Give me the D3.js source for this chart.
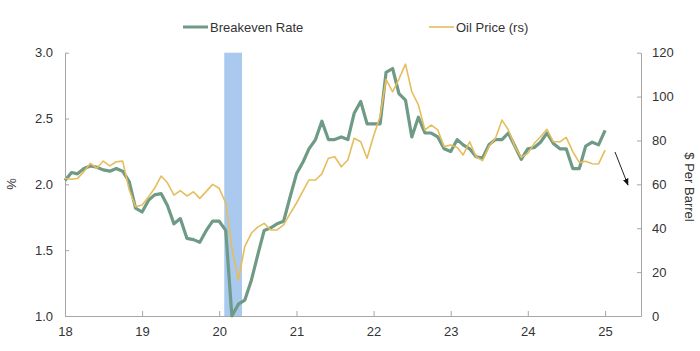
<!DOCTYPE html>
<html><head><meta charset="utf-8">
<script src="https://cdn.jsdelivr.net/npm/d3@7/dist/d3.min.js"></script>
<style>body{margin:0;background:#fff}svg text{font-family:"Liberation Sans",Arial,sans-serif;fill:#333}</style>
</head><body><svg id="c" width="700" height="351"></svg>
<script>
// ---- data ----
const startMonth = "2018-01";
const breakeven = [
 2.03,2.09,2.08,2.12,2.14,2.13,2.11,2.10,2.12,2.10,2.02,1.82,
 1.79,1.88,1.92,1.93,1.84,1.70,1.74,1.59,1.58,1.56,1.65,1.72,
 1.72,1.65,1.00,1.09,1.12,1.27,1.46,1.65,1.67,1.70,1.72,1.90,
 2.08,2.17,2.27,2.34,2.48,2.34,2.34,2.36,2.34,2.54,2.63,2.46,
 2.46,2.46,2.85,2.88,2.69,2.64,2.36,2.51,2.39,2.39,2.36,2.27,
 2.25,2.34,2.30,2.27,2.21,2.20,2.30,2.34,2.34,2.39,2.29,2.19,
 2.27,2.28,2.32,2.39,2.31,2.27,2.27,2.12,2.12,2.29,2.32,2.30,
 2.41];
const oil = [
 62.7,62.3,62.7,65.8,69.6,67.3,70.6,68.4,70.3,70.6,57.5,49.8,
 50.6,54.4,58.2,63.8,60.7,55.1,57.1,54.7,56.6,53.6,56.8,60.0,
 58.2,51.5,31.0,16.4,31.6,37.7,40.5,42.2,39.2,39.2,41.5,46.5,
 51.5,57.0,62.0,62.0,64.8,71.9,72.6,68.0,71.1,81.0,79.4,71.9,
 82.0,91.0,107.9,102.2,108.0,114.8,102.2,96.2,84.8,87.0,84.8,77.2,
 77.9,76.8,73.4,79.4,72.6,70.8,77.2,81.0,89.3,84.8,77.2,72.3,
 74.1,78.7,81.7,85.1,79.4,79.4,81.4,74.9,69.9,70.5,69.4,69.3,
 75.6];
const recession = ["2020-01-25","2020-04-18"];
const xTicks = ["2018","2019","2020","2021","2022","2023","2024","2025"];
const leftTicks = [1.0,1.5,2.0,2.5,3.0];
const rightTicks = [0,20,40,60,80,100,120];
const seriesNames = ["Breakeven Rate","Oil Price (rs)"];

// ---- chart ----
const svg = d3.select("#c");
const parseM = d3.timeParse("%Y-%m");
const parseD = d3.timeParse("%Y-%m-%d");
const t0 = parseM(startMonth);
const dates = breakeven.map((_,i)=>d3.timeMonth.offset(t0,i));
const L=65, R=641, T=52.7, B=316;
const x = d3.scaleTime().domain([t0, parseD("2025-06-20")]).range([L,R]);
const yL = d3.scaleLinear().domain([1,3]).range([B,T]);
const yR = d3.scaleLinear().domain([0,120]).range([B,T]);
const axisCol = "#a6a6a6";

// recession band
svg.append("rect")
  .attr("x", x(parseD(recession[0]))).attr("y", T)
  .attr("width", x(parseD(recession[1]))-x(parseD(recession[0])))
  .attr("height", B-T).attr("fill","#a9c9ef");

// axes
function styleAxis(g){
  g.select(".domain").attr("stroke",axisCol);
  g.selectAll(".tick line").attr("stroke",axisCol);
  g.selectAll(".tick text").attr("font-size",13).attr("fill","#333");
}
svg.append("g").attr("transform",`translate(${L},0)`)
  .call(d3.axisLeft(yL).tickValues(leftTicks).tickFormat(d3.format(".1f")).tickSizeInner(-4).tickSizeOuter(0).tickPadding(12))
  .call(styleAxis);
svg.append("g").attr("transform",`translate(${R},0)`)
  .call(d3.axisRight(yR).tickValues(rightTicks).tickSizeInner(-4).tickSizeOuter(0).tickPadding(11))
  .call(styleAxis);
svg.append("g").attr("transform",`translate(0,${B})`)
  .call(d3.axisBottom(x).tickValues(xTicks.map(d=>d3.timeParse("%Y")(d))).tickFormat(d3.timeFormat("%y")).tickSizeInner(-5).tickSizeOuter(0).tickPadding(11))
  .call(styleAxis);

// lines
const lineBE = d3.line().x((d,i)=>x(dates[i])).y(d=>yL(d));
const lineOil = d3.line().x((d,i)=>x(dates[i])).y(d=>yR(d));
svg.append("path").datum(breakeven).attr("d",lineBE).attr("fill","none")
  .attr("stroke","#6e9a86").attr("stroke-width",3.2).attr("stroke-linejoin","round");
svg.append("path").datum(oil).attr("d",lineOil).attr("fill","none")
  .attr("stroke","#e6bd5c").attr("stroke-width",1.6).attr("stroke-linejoin","round");

// axis titles
svg.append("text").attr("transform","translate(16,184) rotate(-90)")
  .attr("text-anchor","middle").attr("font-size",13).text("%");
svg.append("text").attr("transform","translate(685,187) rotate(90)")
  .attr("text-anchor","middle").attr("font-size",13).text("$ Per Barrel");

// legend
const leg = [{n:seriesNames[0],c:"#6e9a86",w:3,x:183},{n:seriesNames[1],c:"#e6bd5c",w:1.6,x:429}];
leg.forEach(l=>{
  svg.append("line").attr("x1",l.x).attr("x2",l.x+25).attr("y1",27).attr("y2",27)
    .attr("stroke",l.c).attr("stroke-width",l.w);
  svg.append("text").attr("x",l.x+27).attr("y",31.5).attr("font-size",13).text(l.n);
});

// arrow annotation
const defs = svg.append("defs");
defs.append("marker").attr("id","ah").attr("viewBox","0 0 10 10").attr("refX",9).attr("refY",5)
  .attr("markerWidth",7).attr("markerHeight",7).attr("orient","auto")
  .append("path").attr("d","M0,1L10,5L0,9Z").attr("fill","#111");
svg.append("line").attr("x1",615).attr("y1",152).attr("x2",628).attr("y2",185)
  .attr("stroke","#222").attr("stroke-width",1).attr("marker-end","url(#ah)");
</script></body></html>
